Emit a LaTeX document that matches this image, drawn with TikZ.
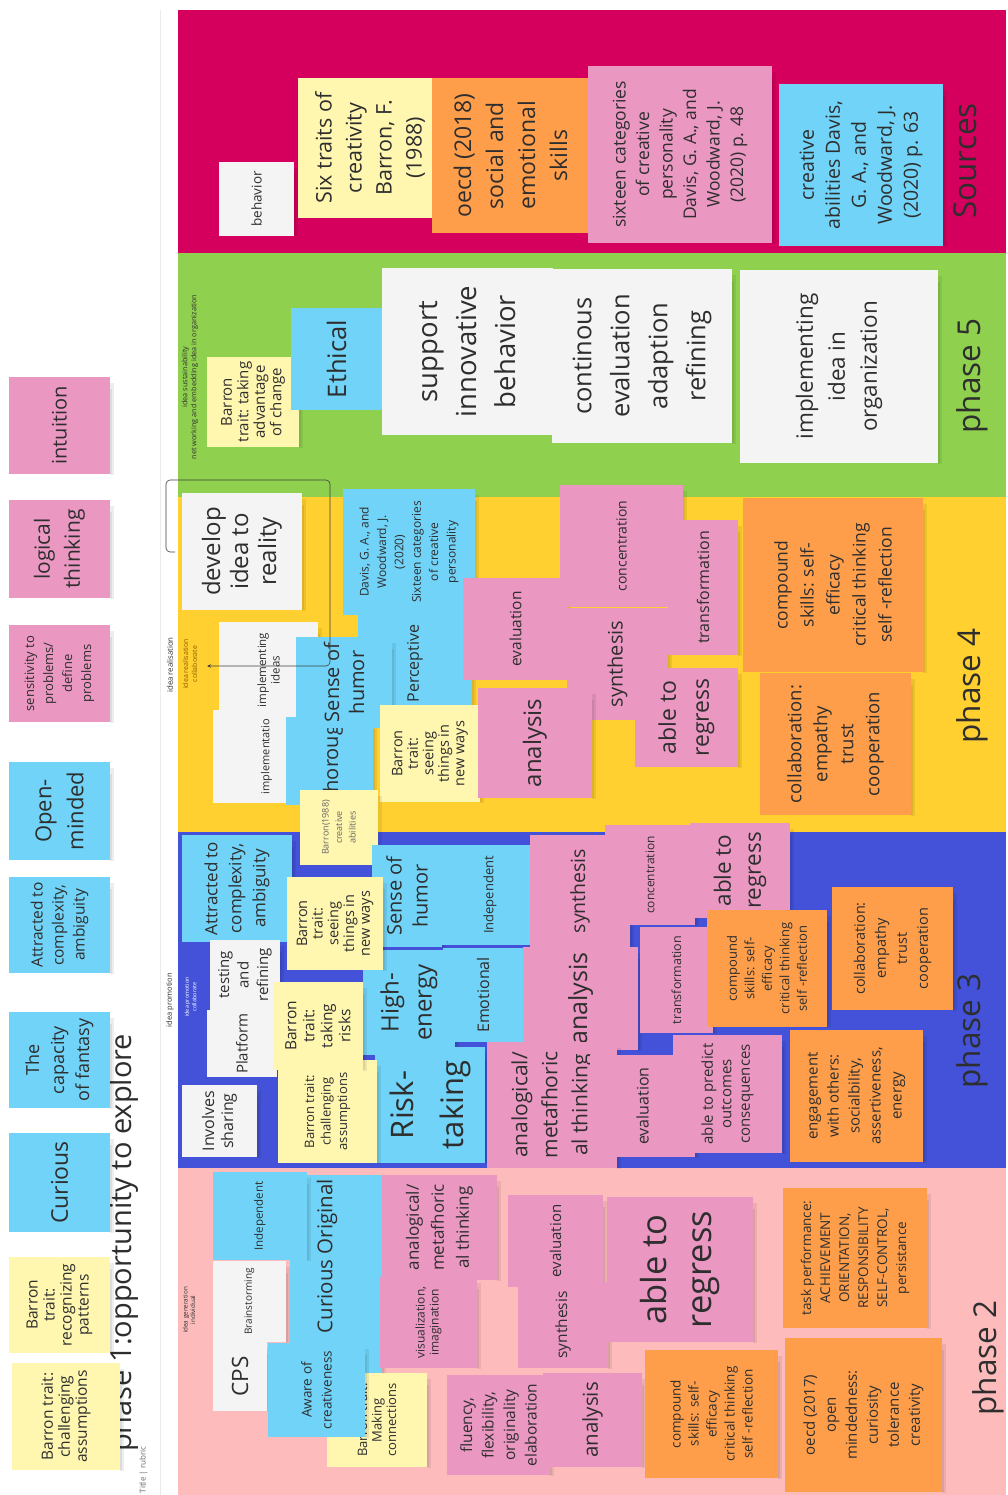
\documentclass[tikz,border=0pt]{standalone}
\usepackage{fontspec}
\setmainfont{Open Sans}
\usetikzlibrary{arrows.meta}
\definecolor{yel}{HTML}{FFF6B0}
\definecolor{blu}{HTML}{70D3F7}
\definecolor{pnk}{HTML}{EA97C1}
\definecolor{org}{HTML}{FF9E4A}
\definecolor{wht}{HTML}{F4F4F4}
\definecolor{bsrc}{HTML}{D5005D}
\definecolor{bgrn}{HTML}{8FD14F}
\definecolor{bylw}{HTML}{FFD02F}
\definecolor{bblu}{HTML}{4352D8}
\definecolor{bpnk}{HTML}{FDBBBB}
\definecolor{ink}{HTML}{2E2E2E}
\definecolor{brn}{HTML}{8C5E00}
\tikzset{
  stkbox/.style={rotate=90, align=center, inner sep=1pt, text=ink, draw=none},
  lbl/.style={rotate=90, align=center, inner sep=0pt},
  shd/.style={fill=black, opacity=0.07},
  phasetxt/.style={rotate=90, inner sep=0pt, text=ink, font=\fontsize{31.5}{32}\selectfont},
  conn/.style={draw=black!75, line width=0.6pt, rounded corners=4pt, -{Stealth[length=4pt,width=3.5pt]}}
}
% name, x1, y1, x2, y2, fill, font size, line skip, text
\newcommand\stk[9]{%
  \fill[shd] ({#4},{#3+6}) rectangle ({#4+4},{#5+1});
  \fill[shd] ({#4},{#3+12}) rectangle ({#4+2},{#5});
  \node[stkbox, fill=#6, minimum width={(#5-#3)*1pt}, minimum height={(#4-#2)*1pt}, font={\fontsize{#7}{#8}\selectfont}] (#1) at ({(#2+#4)/2},{(#3+#5)/2}) {#9};}
\begin{document}
\begin{tikzpicture}[x=1pt,y=-1pt]
\useasboundingbox (0,0) rectangle (1008,1495);
\fill[white] (0,0) rectangle (1008,1495);
\draw[black!8, line width=0.8pt] (160,10) -- (160,1495);
% bands
\fill[bsrc] (178,10) rectangle (1006,253);
\fill[bgrn] (178,253) rectangle (1006,497);
\fill[bylw] (178,497) rectangle (1006,832);
\fill[bblu] (178,832) rectangle (1006,1168);
\fill[bpnk] (178,1168) rectangle (1006,1495);
% title
\node[rotate=90, anchor=base west, inner sep=0pt, text=ink, font=\fontsize{29}{29}\selectfont] (title) at (131,1452) {phase 1:opportunity to explore};
\node[lbl, text=black!60, font=\fontsize{8}{8}\selectfont] (trub) at (143.5,1470) {Title | rubric};
% outside column
\stk{intu}{9}{377}{110}{474}{pnk}{20}{26}{intuition}
\stk{logi}{9}{500}{110}{598}{pnk}{21}{30}{logical\\thinking}
\stk{sens}{9}{625}{110}{722}{pnk}{13}{19}{sensitivity to\\problems/\\define\\problems}
\stk{open}{9}{762}{110}{860}{blu}{22}{32}{Open-\\minded}
\stk{attr}{9}{877}{110}{973}{blu}{15.5}{21}{Attracted to\\complexity,\\ambiguity}
\stk{fant}{9}{1012}{110}{1108}{blu}{18}{25}{The\\capacity\\of fantasy}
\stk{curi}{9}{1133}{110}{1232}{blu}{23}{30}{Curious}
\stk{recog}{9}{1257}{110}{1353}{yel}{15.5}{17}{Barron\\trait:\\recognizing\\patterns}
\stk{chal}{12}{1363}{120}{1470}{yel}{15.5}{17}{Barron trait:\\challenging\\assumptions}
% section labels
\node[lbl, text=ink, font=\fontsize{7.3}{9}\selectfont] (lsus) at (190,377) {idea sustainability\\net working and embedding idea in organization};
\node[lbl, text=ink, font=\fontsize{7.8}{9}\selectfont] (lrea) at (170,665) {idea realisation};
\node[lbl, text=brn, font=\fontsize{7}{9}\selectfont] (lreac) at (190,664) {idea realisation\\collaborate};
\node[lbl, text=ink, font=\fontsize{7.5}{9}\selectfont] (lpro) at (170,1000) {idea promotion};
\node[lbl, text=white, font=\fontsize{5.5}{7.5}\selectfont] (lproc) at (190.5,997) {idea promotion\\collaborate};
\node[lbl, text=ink, font=\fontsize{6.3}{7.5}\selectfont] (lgen) at (189,1310) {idea generation\\individual};
% Sources
\stk{behav}{219}{162}{294}{236}{wht}{13.5}{17}{behavior}
\stk{six}{298}{78}{442}{218}{yel}{21.5}{30}{Six traits of\\creativity\\Barron, F.\\(1988)}
\stk{oecdA}{432}{78}{589}{233}{org}{23}{32}{oecd (2018)\\social and\\emotional\\skills}
\stk{sixteen}{588}{66}{772}{243}{pnk}{17.5}{23.5}{sixteen categories\\of creative\\personality\\Davis, G. A., and\\Woodward, J.\\(2020) p. 48}
\stk{abil}{779}{84}{943}{246}{blu}{19.5}{26}{creative\\abilities Davis,\\G. A., and\\Woodward, J.\\(2020) p. 63}
% phase 5
\stk{advch}{207}{357}{299}{447}{yel}{15}{16.5}{Barron\\trait: taking\\advantage\\of change}
\stk{ethic}{291}{308}{382}{410}{blu}{25.5}{30}{Ethical}
\stk{suppo}{382}{268}{553}{435}{wht}{27.5}{39}{support\\innovative\\behavior}
\stk{conti}{552}{269}{732}{443}{wht}{25.5}{38}{continous\\evaluation\\adaption\\refining}
\stk{implo}{740}{270}{938}{463}{wht}{22.5}{32}{implementing\\idea in\\organization}
% phase 4
\stk{devel}{182}{493}{302}{610}{wht}{24}{28}{develop\\idea to\\reality}
\stk{impB}{213}{710}{320}{803}{wht}{11}{14}{implementatio}
\stk{impA}{219}{622}{318}{718}{wht}{11.5}{13.5}{implementing\\ideas}
\stk{thor}{286}{717}{373}{805}{blu}{20}{25}{}
\begin{scope}
\clip (286,717) rectangle (373,805);
\node[stkbox, font=\fontsize{20}{25}\selectfont] (thortxt) at (333,758) {Thorough};
\end{scope}
\stk{perc}{358}{610}{472}{717}{blu}{16}{20}{Perceptive}
\stk{davis}{343}{489}{475}{615}{blu}{12}{17.4}{Davis, G. A., and\\Woodward, J.\\(2020)\\Sixteen categories\\of creative\\personality}
\stk{humA}{296}{637}{392}{728}{blu}{20}{25}{Sense of\\humor}
\stk{seeA}{380}{705}{480}{802}{yel}{14.5}{15.5}{Barron\\trait:\\seeing\\things in\\new ways}
\fill[shd] (378,796) rectangle (382,866);
\node[stkbox, fill=yel, text=black!60, minimum width=75pt, minimum height=78pt, font=\fontsize{9}{13.5}\selectfont] (b1988) at (339,827.5) {Barron(1988)\\creative\\abilities};
\stk{evalA}{463}{578}{568}{680}{pnk}{15.5}{20}{evaluation}
\stk{concA}{560}{485}{683}{607}{pnk}{14}{18}{concentration}
\stk{synA}{567}{608}{668}{720}{pnk}{20}{25}{synthesis}
\stk{anaA}{478}{688}{592}{798}{pnk}{24}{30}{analysis}
\stk{traA}{668}{520}{738}{655}{pnk}{16}{20}{transformation}
\stk{regA}{635}{668}{738}{767}{pnk}{23}{33}{able to\\regress}
\stk{compA}{743}{498}{923}{672}{org}{17.5}{26}{compound\\skills: self-\\efficacy\\critical thinking\\self -reflection}
\stk{collA}{760}{673}{911}{815}{org}{18.5}{26}{collaboration:\\empathy\\trust\\cooperation}
% phase 3
\stk{attrB}{182}{835}{292}{942}{blu}{17}{24}{Attracted to\\complexity,\\ambiguity}
\stk{test}{210}{940}{280}{1010}{wht}{15}{19.5}{testing\\and\\refining}
\stk{platf}{207}{1010}{277}{1077}{wht}{15}{19}{Platform}
\stk{invol}{182}{1085}{257}{1157}{wht}{16}{19}{Involves\\sharing}
\stk{humB}{372}{845}{442}{947}{blu}{20}{26}{Sense of\\humor}
\stk{indB}{438}{845}{542}{945}{blu}{13}{17}{Independent}
\stk{hien}{363}{950}{455}{1055}{blu}{24}{33}{High-\\energy}
\stk{seeB}{287}{877}{383}{970}{yel}{14.5}{15.7}{Barron\\trait:\\seeing\\things in\\new ways}
\stk{emot}{443}{948}{523}{1042}{blu}{16}{20}{Emotional}
\stk{risk}{375}{1047}{485}{1163}{blu}{31}{50}{Risk-\\taking}
\stk{chalB}{278}{1060}{377}{1163}{yel}{13}{16.5}{Barron trait:\\challenging\\assumptions}
\stk{takr}{273}{982}{363}{1070}{yel}{15.5}{18}{Barron\\trait:\\taking\\risks}
\stk{synB}{530}{835}{630}{947}{pnk}{19.5}{24}{synthesis}
\stk{concB}{605}{825}{695}{925}{pnk}{12}{16}{concentration}
\stk{regB}{690}{823}{790}{918}{pnk}{22.5}{30}{able to\\regress}
\stk{anaB}{523}{947}{638}{1050}{pnk}{25}{30}{analysis}
\stk{traB}{640}{927}{713}{1033}{pnk}{12.5}{16}{transformation}
\stk{compB}{707}{910}{827}{1027}{org}{13}{17.5}{compound\\skills: self-\\efficacy\\critical thinking\\self -reflection}
\stk{anlgB}{487}{1042}{617}{1168}{pnk}{21}{30}{analogical/\\metafhoric\\al thinking}
\stk{evalB}{590}{1055}{695}{1157}{pnk}{16}{20}{evaluation}
\stk{pred}{673}{1035}{782}{1153}{pnk}{15}{18.5}{able to predict\\outcomes\\consequences}
\stk{engag}{790}{1030}{923}{1162}{org}{15}{21}{engagement\\with others:\\socialbility,\\assertiveness,\\energy}
\stk{collB}{832}{887}{953}{1010}{org}{14.5}{21}{collaboration:\\empathy\\trust\\cooperation}
% phase 2
\stk{curO}{290}{1175}{382}{1375}{blu}{20.5}{25}{}
\node[stkbox, font=\fontsize{20.5}{25}\selectfont] (curOtxt) at (327,1256) {Curious Original};
\stk{indC}{213}{1172}{307}{1260}{blu}{11.5}{14}{Independent}
\stk{brain}{213}{1261}{286}{1342}{wht}{10}{13}{Brainstorming}
\stk{cps}{213}{1342}{267}{1411}{wht}{22.5}{26}{CPS}
\stk{makc}{327}{1373}{427}{1467}{yel}{13}{14.5}{Barron trait:\\Making\\connections}
\stk{aware}{268}{1343}{365}{1437}{blu}{13.5}{20}{Aware of\\creativeness}
\stk{anlgC}{382}{1175}{497}{1280}{pnk}{17}{25}{analogical/\\metafhoric\\al thinking}
\stk{visu}{380}{1277}{477}{1368}{pnk}{12}{14}{visualization,\\imagination}
\stk{evalC}{508}{1195}{603}{1287}{pnk}{15}{19}{evaluation}
\stk{synC}{518}{1282}{608}{1368}{pnk}{15.5}{19}{synthesis}
\stk{regC}{607}{1197}{753}{1342}{pnk}{34.5}{45}{able to\\regress}
\stk{flue}{447}{1375}{550}{1475}{pnk}{15.5}{21.5}{fluency,\\flexibility,\\originality\\elaboration}
\stk{anaC}{543}{1373}{642}{1467}{pnk}{20.5}{25}{analysis}
\stk{compC}{645}{1350}{778}{1478}{org}{13.5}{18}{compound\\skills: self-\\efficacy\\critical thinking\\self -reflection}
\stk{task}{783}{1188}{927}{1328}{org}{13.5}{19}{task performance:\\ACHIEVEMENT\\ORIENTATION,\\RESPONSIBILITY\\SELF-CONTROL,\\persistance}
\stk{oecdB}{785}{1338}{942}{1492}{org}{15}{21}{oecd (2017)\\open\\mindedness:\\curiosity\\tolerance\\creativity}
% phase labels
\node[phasetxt] (psrc) at (965,161) {Sources};
\node[phasetxt] (p5) at (972,376) {phase 5};
\node[phasetxt] (p4) at (972,686) {phase 4};
\node[phasetxt] (p3) at (972,1031) {phase 3};
\node[phasetxt] (p2) at (988,1358) {phase 2};
% connector
\coordinate (cs) at (175,552);
\coordinate (ce) at (207,666);
\draw[conn] (cs) -- (166,552) |- (330,480) |- (ce);
\end{tikzpicture}
\end{document}
